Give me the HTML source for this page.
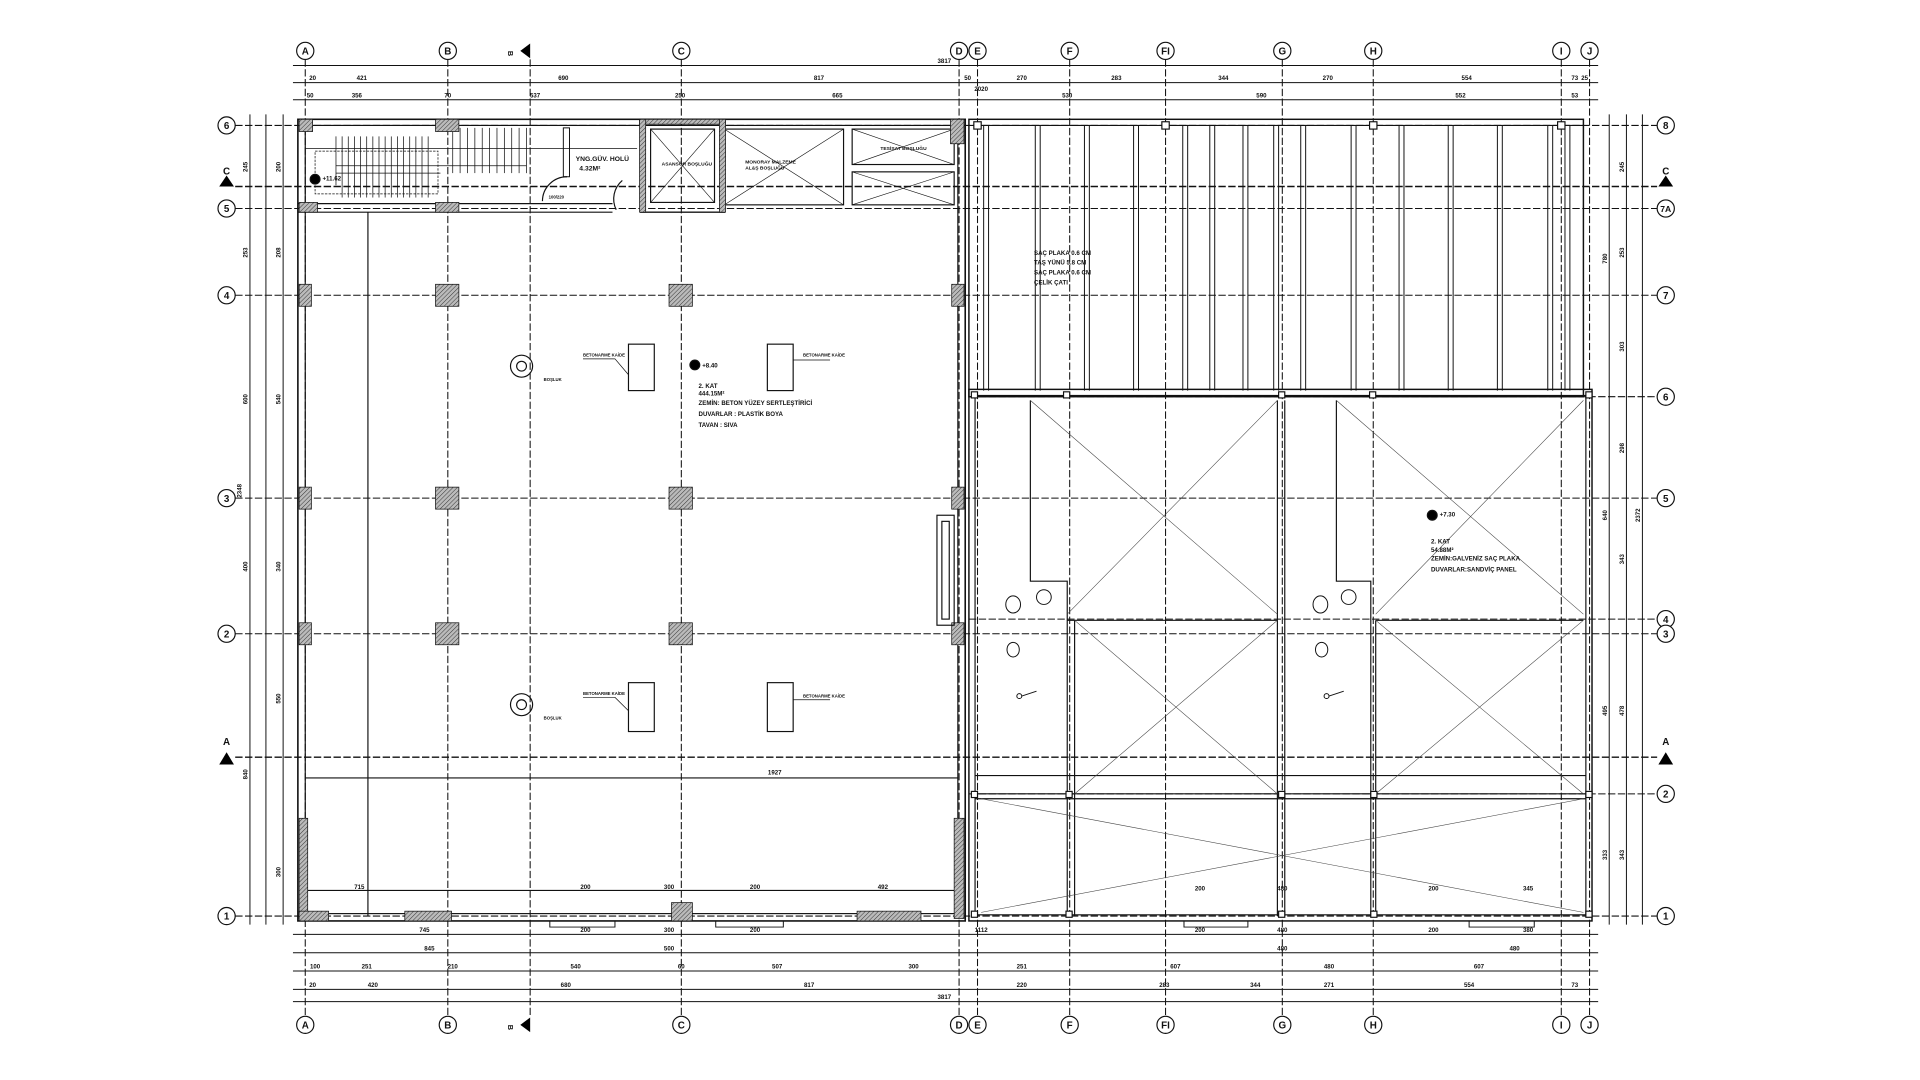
<!DOCTYPE html>
<html><head><meta charset="utf-8"><style>
html,body{margin:0;padding:0;background:#fff;width:1920px;height:1080px;overflow:hidden}
svg{display:block}
text{font-family:"Liberation Sans",sans-serif;fill:#111;font-weight:600}
</style></head><body>
<svg width="1920" height="1080" viewBox="0 0 1920 1080" xmlns="http://www.w3.org/2000/svg">
<defs>
<pattern id="h" width="2.5" height="2.5" patternUnits="userSpaceOnUse" patternTransform="rotate(45)">
<rect width="2.5" height="2.5" fill="#bbb"/><line x1="0" y1="0" x2="0" y2="2.5" stroke="#333" stroke-width="0.8"/></pattern>
</defs>
<rect width="1920" height="1080" fill="#fff"/>
<g transform="matrix(1.229,0,0,1.222,-2,2)" stroke="#111" fill="none" stroke-width="0.95">

<g stroke-dasharray="6 2" stroke-width="0.85">
<line x1="250" y1="47" x2="250" y2="830"/><line x1="366" y1="47" x2="366" y2="830"/>
<line x1="433" y1="47" x2="433" y2="830"/><line x1="556" y1="47" x2="556" y2="830"/>
<line x1="782" y1="47" x2="782" y2="830"/><line x1="797" y1="47" x2="797" y2="830"/>
<line x1="872" y1="47" x2="872" y2="830"/><line x1="950" y1="47" x2="950" y2="830"/>
<line x1="1045" y1="47" x2="1045" y2="830"/><line x1="1119" y1="47" x2="1119" y2="830"/>
<line x1="1272" y1="47" x2="1272" y2="830"/><line x1="1295" y1="47" x2="1295" y2="830"/>
<line x1="193" y1="101" x2="1350" y2="101"/><line x1="193" y1="151" x2="1350" y2="151" stroke-width="1.2"/>
<line x1="193" y1="169" x2="1350" y2="169"/><line x1="193" y1="240" x2="1350" y2="240"/>
<line x1="193" y1="406" x2="1350" y2="406"/><line x1="193" y1="517" x2="1350" y2="517"/>
<line x1="193" y1="618" x2="1350" y2="618" stroke-width="1.2"/><line x1="193" y1="748" x2="1350" y2="748"/>
<line x1="790" y1="323" x2="1350" y2="323"/><line x1="790" y1="505" x2="1350" y2="505"/>
<line x1="790" y1="648" x2="1350" y2="648"/>
</g>

<g font-size="8" text-anchor="middle">
<g id="cb">
<circle cx="250" cy="40" r="7" fill="#fff"/><circle cx="366" cy="40" r="7" fill="#fff"/><circle cx="556" cy="40" r="7" fill="#fff"/>
<circle cx="782" cy="40" r="7" fill="#fff"/><circle cx="797" cy="40" r="7" fill="#fff"/><circle cx="872" cy="40" r="7" fill="#fff"/>
<circle cx="950" cy="40" r="7" fill="#fff"/><circle cx="1045" cy="40" r="7" fill="#fff"/><circle cx="1119" cy="40" r="7" fill="#fff"/>
<circle cx="1272" cy="40" r="7" fill="#fff"/><circle cx="1295" cy="40" r="7" fill="#fff"/>
</g>
<use href="#cb" y="797"/>
<g stroke="none">
<text x="250" y="43">A</text><text x="366" y="43">B</text><text x="556" y="43">C</text><text x="782" y="43">D</text><text x="797" y="43">E</text>
<text x="872" y="43">F</text><text x="950" y="43">FI</text><text x="1045" y="43">G</text><text x="1119" y="43">H</text><text x="1272" y="43">I</text><text x="1295" y="43">J</text>
<text x="250" y="840">A</text><text x="366" y="840">B</text><text x="556" y="840">C</text><text x="782" y="840">D</text><text x="797" y="840">E</text>
<text x="872" y="840">F</text><text x="950" y="840">FI</text><text x="1045" y="840">G</text><text x="1119" y="840">H</text><text x="1272" y="840">I</text><text x="1295" y="840">J</text>
</g>
<g fill="#fff">
<circle cx="186" cy="101" r="7"/><circle cx="186" cy="169" r="7"/><circle cx="186" cy="240" r="7"/><circle cx="186" cy="406" r="7"/><circle cx="186" cy="517" r="7"/><circle cx="186" cy="748" r="7"/>
<circle cx="1357" cy="101" r="7"/><circle cx="1357" cy="169" r="7"/><circle cx="1357" cy="240" r="7"/><circle cx="1357" cy="323" r="7"/><circle cx="1357" cy="406" r="7"/>
<circle cx="1357" cy="505" r="7"/><circle cx="1357" cy="517" r="7"/><circle cx="1357" cy="648" r="7"/><circle cx="1357" cy="748" r="7"/>
</g>
<g stroke="none">
<text x="186" y="104">6</text><text x="186" y="172">5</text><text x="186" y="243">4</text><text x="186" y="409">3</text><text x="186" y="520">2</text><text x="186" y="751">1</text>
<text x="1357" y="104">8</text><text x="1357" y="172" font-size="7">7A</text><text x="1357" y="243">7</text><text x="1357" y="326">6</text><text x="1357" y="409">5</text>
<text x="1357" y="508">4</text><text x="1357" y="520">3</text><text x="1357" y="651">2</text><text x="1357" y="751">1</text>
<text x="186" y="141">C</text><text x="1357" y="141">C</text><text x="186" y="608">A</text><text x="1357" y="608">A</text>
</g>
</g>
<g fill="#000" stroke="none">
<polygon points="180,151 192,151 186,142"/><polygon points="1351,151 1363,151 1357,142"/>
<polygon points="180,624 192,624 186,614"/><polygon points="1351,624 1363,624 1357,614"/>
<polygon points="425,40 433,34 433,46"/><polygon points="425,837 433,831 433,843"/>
</g>
<text x="418" y="43" font-size="6" stroke="none" transform="rotate(90 418 40)">B</text>
<text x="418" y="840" font-size="6" stroke="none" transform="rotate(90 418 837)">B</text>

<g stroke-width="0.8">
<line x1="240" y1="52" x2="1302" y2="52"/><line x1="240" y1="66" x2="1302" y2="66"/><line x1="240" y1="80" x2="1302" y2="80"/>
<line x1="240" y1="763" x2="1302" y2="763"/><line x1="240" y1="778" x2="1302" y2="778"/><line x1="240" y1="793" x2="1302" y2="793"/>
<line x1="240" y1="808" x2="1302" y2="808"/><line x1="240" y1="818" x2="1302" y2="818"/>
<line x1="205" y1="92" x2="205" y2="755"/><line x1="218" y1="92" x2="218" y2="755"/><line x1="232" y1="92" x2="232" y2="755"/>
<line x1="1311" y1="92" x2="1311" y2="755"/><line x1="1325" y1="92" x2="1325" y2="755"/><line x1="1338" y1="92" x2="1338" y2="755"/>
</g>
<g font-size="5" stroke="none" text-anchor="middle">
<text x="770" y="50">3817</text>
<text x="256" y="64">20</text><text x="296" y="64">421</text><text x="460" y="64">690</text><text x="668" y="64">817</text><text x="789" y="64">50</text>
<text x="833" y="64">270</text><text x="910" y="64">283</text><text x="997" y="64">344</text><text x="1082" y="64">270</text><text x="1195" y="64">554</text><text x="1283" y="64">73</text><text x="1291" y="64">25</text>
<text x="254" y="78">50</text><text x="292" y="78">356</text><text x="366" y="78">70</text><text x="437" y="78">537</text><text x="555" y="78">250</text><text x="683" y="78">665</text>
<text x="870" y="78">530</text><text x="1028" y="78">590</text><text x="1190" y="78">552</text><text x="1283" y="78">53</text><text x="800" y="73">2020</text>
<text x="347" y="761">745</text><text x="478" y="761">200</text><text x="546" y="761">300</text><text x="616" y="761">200</text><text x="800" y="761">1112</text>
<text x="978" y="761">200</text><text x="1045" y="761">480</text><text x="1168" y="761">200</text><text x="1245" y="761">380</text>
<text x="351" y="776">845</text><text x="546" y="776">500</text><text x="1045" y="776">480</text><text x="1234" y="776">480</text>
<text x="258" y="791">100</text><text x="300" y="791">251</text><text x="370" y="791">210</text><text x="470" y="791">540</text><text x="556" y="791">60</text><text x="634" y="791">507</text><text x="745" y="791">300</text>
<text x="833" y="791">251</text><text x="958" y="791">607</text><text x="1083" y="791">480</text><text x="1205" y="791">607</text>
<text x="256" y="806">20</text><text x="305" y="806">420</text><text x="462" y="806">680</text><text x="660" y="806">817</text><text x="833" y="806">220</text>
<text x="949" y="806">283</text><text x="1023" y="806">344</text><text x="1083" y="806">271</text><text x="1197" y="806">554</text><text x="1283" y="806">73</text>
<text x="770" y="816">3817</text>
<text x="632" y="632">1927</text><text x="294" y="726">715</text><text x="478" y="726">200</text><text x="546" y="726">300</text><text x="616" y="726">200</text><text x="720" y="726">492</text>
<text x="978" y="727">200</text><text x="1045" y="727">480</text><text x="1168" y="727">200</text><text x="1245" y="727">345</text>
</g>
<g font-size="5" stroke="none" text-anchor="middle">
<text transform="translate(203,135) rotate(-90)">245</text><text transform="translate(203,205) rotate(-90)">253</text><text transform="translate(203,325) rotate(-90)">600</text>
<text transform="translate(203,462) rotate(-90)">400</text><text transform="translate(203,632) rotate(-90)">840</text><text transform="translate(198,400) rotate(-90)">2348</text>
<text transform="translate(230,135) rotate(-90)">200</text><text transform="translate(230,205) rotate(-90)">208</text><text transform="translate(230,325) rotate(-90)">540</text>
<text transform="translate(230,462) rotate(-90)">340</text><text transform="translate(230,570) rotate(-90)">550</text><text transform="translate(230,712) rotate(-90)">300</text>
<text transform="translate(1323,135) rotate(-90)">245</text><text transform="translate(1323,205) rotate(-90)">253</text><text transform="translate(1323,282) rotate(-90)">303</text>
<text transform="translate(1323,365) rotate(-90)">298</text><text transform="translate(1323,456) rotate(-90)">343</text><text transform="translate(1323,580) rotate(-90)">478</text>
<text transform="translate(1323,698) rotate(-90)">343</text><text transform="translate(1336,420) rotate(-90)">2372</text><text transform="translate(1309,210) rotate(-90)">780</text>
<text transform="translate(1309,420) rotate(-90)">640</text><text transform="translate(1309,580) rotate(-90)">495</text><text transform="translate(1309,698) rotate(-90)">333</text>
</g>

<rect x="244" y="96" width="543" height="656" stroke-width="1.3"/>
<rect x="250" y="101" width="531" height="645"/>
<line x1="301" y1="172" x2="301" y2="748"/>
<line x1="250" y1="635" x2="781" y2="635"/>
<line x1="250" y1="727" x2="781" y2="727"/>
<line x1="244" y1="165" x2="500" y2="165"/><line x1="244" y1="172" x2="500" y2="172"/>
<line x1="250" y1="120" x2="520" y2="120" stroke-width="0.6"/>
<g stroke-width="0.6">
<line x1="275" y1="110" x2="275" y2="150"/><line x1="280" y1="110" x2="280" y2="160"/><line x1="285" y1="110" x2="285" y2="160"/><line x1="290" y1="110" x2="290" y2="160"/>
<line x1="295" y1="110" x2="295" y2="160"/><line x1="300" y1="110" x2="300" y2="160"/><line x1="305" y1="110" x2="305" y2="160"/><line x1="310" y1="110" x2="310" y2="160"/>
<line x1="315" y1="110" x2="315" y2="160"/><line x1="320" y1="110" x2="320" y2="160"/><line x1="325" y1="110" x2="325" y2="160"/><line x1="330" y1="110" x2="330" y2="160"/>
<line x1="335" y1="110" x2="335" y2="160"/><line x1="340" y1="110" x2="340" y2="160"/><line x1="345" y1="110" x2="345" y2="160"/><line x1="350" y1="110" x2="350" y2="160"/>
<line x1="370" y1="103" x2="370" y2="140"/><line x1="376" y1="103" x2="376" y2="140"/><line x1="382" y1="103" x2="382" y2="140"/><line x1="388" y1="103" x2="388" y2="140"/>
<line x1="394" y1="103" x2="394" y2="140"/><line x1="400" y1="103" x2="400" y2="140"/><line x1="406" y1="103" x2="406" y2="140"/><line x1="412" y1="103" x2="412" y2="140"/>
<line x1="418" y1="103" x2="418" y2="140"/><line x1="424" y1="103" x2="424" y2="140"/><line x1="430" y1="103" x2="430" y2="140"/>
<line x1="275" y1="134" x2="430" y2="134"/><line x1="275" y1="140" x2="360" y2="140"/>
<rect x="258" y="122" width="100" height="35" stroke-dasharray="2 1"/>
</g>
<circle cx="258" cy="145" r="4" fill="#000"/>
<text x="264" y="146" font-size="5" stroke="none">+11.62</text>
<rect x="460" y="103" width="5" height="40" stroke-width="0.8"/>
<path d="M463,143 A20,20 0 0 0 443,163"/><path d="M508,146 A20,20 0 0 0 503,170"/>
<text x="470" y="130" font-size="5.5" stroke="none">YNG.GÜV. HOLÜ</text>
<text x="473" y="138" font-size="5.5" stroke="none">4.32M²</text>
<text x="448" y="161" font-size="3.5" stroke="none">100/220</text>
<rect x="523" y="96" width="68" height="76" stroke-width="1.1"/>
<rect x="531" y="104" width="52" height="60"/>
<path d="M531,104 L583,164 M583,104 L531,164" stroke-width="0.5"/>
<text x="540" y="134" font-size="4" stroke="none">ASANSÖR BOŞLUĞU</text>
<rect x="591" y="104" width="97" height="62"/>
<path d="M591,104 L688,166 M688,104 L591,166" stroke-width="0.5"/>
<text x="608" y="132" font-size="4" stroke="none">MONORAY MALZEME</text>
<text x="608" y="137" font-size="4" stroke="none">AL&amp;Ş BOŞLUĞU</text>
<rect x="695" y="104" width="83" height="29"/><rect x="695" y="139" width="83" height="27"/>
<path d="M695,104 L778,133 M778,104 L695,133 M695,139 L778,166 M778,139 L695,166" stroke-width="0.5"/>
<text x="718" y="121" font-size="4" stroke="none">TESİSAT BOŞLUĞU</text>
<g fill="url(#h)" stroke="#111" stroke-width="0.6">
<rect x="522" y="96" width="70" height="4"/><rect x="522" y="96" width="5" height="76"/><rect x="587" y="96" width="5" height="76"/>
<rect x="245" y="96" width="11" height="10"/><rect x="356" y="96" width="19" height="10"/><rect x="775" y="96" width="11" height="20"/>
<rect x="245" y="164" width="15" height="8"/><rect x="356" y="164" width="19" height="8"/>
<rect x="245" y="231" width="10" height="18"/><rect x="356" y="231" width="19" height="18"/><rect x="546" y="231" width="19" height="18"/><rect x="776" y="231" width="10" height="18"/>
<rect x="245" y="397" width="10" height="18"/><rect x="356" y="397" width="19" height="18"/><rect x="546" y="397" width="19" height="18"/><rect x="776" y="397" width="10" height="18"/>
<rect x="245" y="508" width="10" height="18"/><rect x="356" y="508" width="19" height="18"/><rect x="546" y="508" width="19" height="18"/><rect x="776" y="508" width="10" height="18"/>
<rect x="245" y="668" width="7" height="82"/><rect x="778" y="668" width="8" height="82"/>
<rect x="245" y="744" width="24" height="8"/><rect x="331" y="744" width="38" height="8"/><rect x="699" y="744" width="52" height="8"/>
<rect x="548" y="737" width="17" height="15"/>
</g>
<path d="M449,752 L449,757 L502,757 L502,752 M584,752 L584,757 L639,757 L639,752" stroke-width="0.8"/>
<rect x="764" y="420" width="14" height="90"/><rect x="768" y="425" width="6" height="80"/>
<rect x="513" y="280" width="21" height="38"/><rect x="626" y="280" width="21" height="38"/>
<rect x="513" y="557" width="21" height="40"/><rect x="626" y="557" width="21" height="40"/>
<g font-size="3.5" stroke="none">
<text x="476" y="290">BETONARME KAİDE</text><text x="655" y="290">BETONARME KAİDE</text>
<text x="476" y="567">BETONARME KAİDE</text><text x="655" y="569">BETONARME KAİDE</text>
<text x="444" y="310">BOŞLUK</text><text x="444" y="587">BOŞLUK</text>
</g>
<path d="M476,292 L502,292 L513,305 M647,293 L677,293 M476,569 L502,569 L513,580 M647,571 L677,571" stroke-width="0.6"/>
<circle cx="426" cy="298" r="9"/><circle cx="426" cy="298" r="4"/>
<circle cx="426" cy="575" r="9"/><circle cx="426" cy="575" r="4"/>
<circle cx="567" cy="297" r="4" fill="#000"/>
<g font-size="5" stroke="none">
<text x="573" y="299">+8.40</text>
<text x="570" y="316">2. KAT</text><text x="570" y="322">444.15M²</text>
<text x="570" y="330">ZEMİN: BETON YÜZEY SERTLEŞTİRİCİ</text>
<text x="570" y="339">DUVARLAR : PLASTİK BOYA</text><text x="570" y="348">TAVAN : SIVA</text>
</g>

<rect x="790" y="96" width="500" height="227" stroke-width="1.2"/>
<line x1="790" y1="101" x2="1290" y2="101"/>
<g stroke-width="0.8">
<path d="M802,101V318 M806,101V318 M844,101V318 M848,101V318 M884,101V318 M888,101V318 M924,101V318 M928,101V318 M964,101V318 M968,101V318
M986,101V318 M990,101V318 M1013,101V318 M1017,101V318 M1038,101V318 M1042,101V318 M1060,101V318 M1064,101V318 M1101,101V318 M1105,101V318
M1140,101V318 M1144,101V318 M1180,101V318 M1184,101V318 M1220,101V318 M1224,101V318 M1261,101V318 M1265,101V318 M1275,101V318 M1279,101V318"/>
</g>
<rect x="794" y="98" width="6" height="6" fill="#fff"/><rect x="947" y="98" width="6" height="6" fill="#fff"/><rect x="1116" y="98" width="6" height="6" fill="#fff"/><rect x="1269" y="98" width="6" height="6" fill="#fff"/>
<g font-size="5" stroke="none">
<text x="843" y="207">SAÇ PLAKA 0.6 CM</text><text x="843" y="215">TAŞ YÜNÜ 5.8 CM</text>
<text x="843" y="223">SAÇ PLAKA 0.6 CM</text><text x="843" y="231">ÇELİK ÇATI</text>
</g>

<rect x="790" y="317" width="507" height="435" stroke-width="1.2"/>
<rect x="795" y="322" width="497" height="425"/>
<path d="M840,326 V474 H870 V748 M876,506 V748 M870,506 H1041 M1041,326 V748 M1047,326 V748 M1089,326 V474 H1117 V748 M1121,506 V748 M1121,506 H1290"/>
<path d="M795,648 H1292 M795,652 H1292 M795,633 H1292"/>
<g stroke-width="0.45" stroke="#444">
<path d="M840,326 L1041,501 M1041,326 L870,501 M876,506 L1041,648 M1041,506 L876,648"/>
<path d="M1089,326 L1290,501 M1290,326 L1121,501 M1121,506 L1290,648 M1290,506 L1121,648"/>
<path d="M800,652 L1290,745 M1290,652 L800,745"/>
</g>
<g fill="#fff">
<rect x="792" y="319" width="5" height="5"/><rect x="867" y="319" width="5" height="5"/><rect x="1042" y="319" width="5" height="5"/><rect x="1116" y="319" width="5" height="5"/><rect x="1292" y="319" width="5" height="5"/>
<rect x="792" y="646" width="5" height="5"/><rect x="869" y="646" width="5" height="5"/><rect x="1042" y="646" width="5" height="5"/><rect x="1117" y="646" width="5" height="5"/><rect x="1292" y="646" width="5" height="5"/>
<rect x="792" y="744" width="5" height="5"/><rect x="869" y="744" width="5" height="5"/><rect x="1042" y="744" width="5" height="5"/><rect x="1117" y="744" width="5" height="5"/><rect x="1292" y="744" width="5" height="5"/>
</g>
<path d="M965,752 V757 H1017 V752 M1197,752 V757 H1250 V752" stroke-width="0.8"/>
<g stroke-width="0.8">
<ellipse cx="826" cy="493" rx="6" ry="7"/><ellipse cx="851" cy="487" rx="6" ry="6"/><ellipse cx="826" cy="530" rx="5" ry="6"/>
<ellipse cx="1076" cy="493" rx="6" ry="7"/><ellipse cx="1099" cy="487" rx="6" ry="6"/><ellipse cx="1077" cy="530" rx="5" ry="6"/>
<circle cx="831" cy="568" r="2"/><circle cx="1081" cy="568" r="2"/>
<path d="M833,568 L845,564 M1083,568 L1095,564"/>
</g>
<circle cx="1167" cy="420" r="4" fill="#000"/>
<g font-size="5" stroke="none">
<text x="1173" y="421">+7.30</text>
<text x="1166" y="443">2. KAT</text><text x="1166" y="450">54.88M²</text>
<text x="1166" y="457">ZEMİN:GALVENİZ SAÇ PLAKA</text><text x="1166" y="466">DUVARLAR:SANDVİÇ PANEL</text>
</g>
</g>
</svg>
</body></html>
